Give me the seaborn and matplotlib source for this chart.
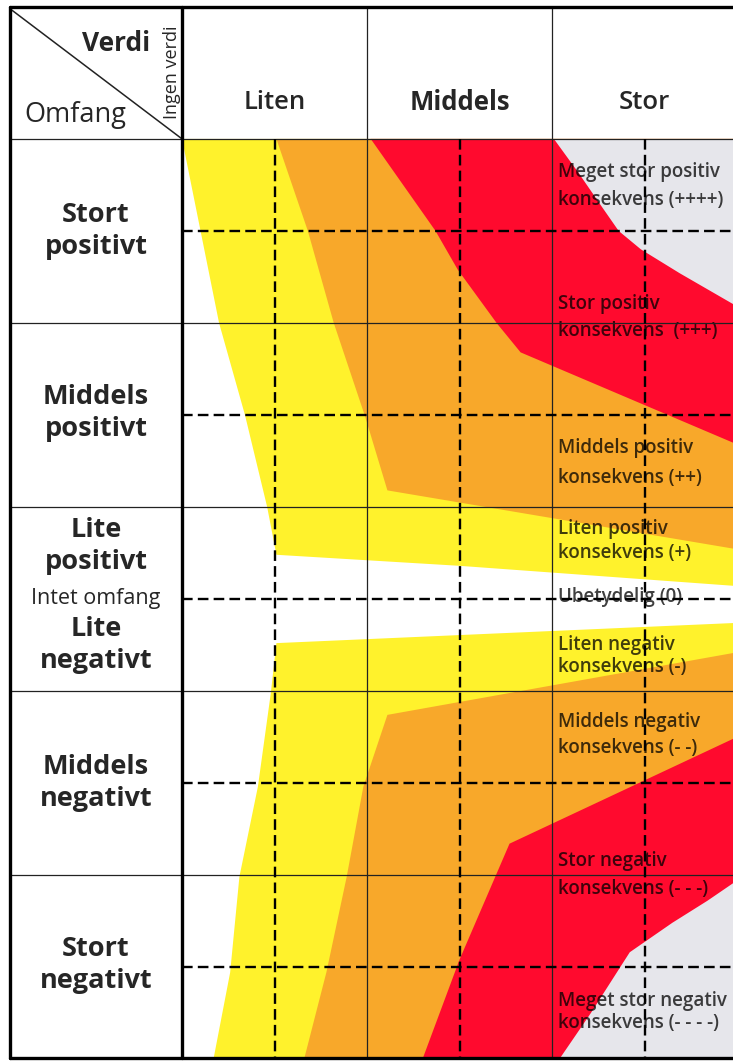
"""
Konsekvensvifte: verdi (kolonner) mot omfang (rader)
"""

import matplotlib
matplotlib.use("Agg")
import matplotlib.pyplot as plt
import seaborn as sns

sns.set_style("white")
plt.rcParams['font.family'] = ['Open Sans', 'DejaVu Sans']

# Units: x = verdi (0 = ingen verdi, 1 liten, 2 middels, 3 stor)
#        y = omfang (+2.5 stort positivt ... 0 intet ... -2.5 stort negativt)
value_cols = ['Liten', 'Middels', 'Stor']
scope_rows = ['Stort\npositivt', 'Middels\npositivt', 'Lite\npositivt',
              'Lite\nnegativt', 'Middels\nnegativt', 'Stort\nnegativt']
scope_row_y = [2.0, 1.01, 0.29, -0.25, -1.0, -1.99]

# fan polygons, positive half
yellow_pos_x = [0.0, 0.2, 0.34, 0.46, 0.51, 1.5, 3.0, 3.0]
yellow_pos_y = [2.5, 1.5, 1.0, 0.5, 0.24, 0.18, 0.07, 2.5]
orange_pos_x = [0.51, 0.68, 0.82, 0.99, 1.11, 3.0, 3.0]
orange_pos_y = [2.5, 2.0, 1.5, 0.99, 0.59, 0.27, 2.5]
red_pos_x = [1.02, 1.37, 1.49, 1.70, 1.83, 3.0, 3.0]
red_pos_y = [2.5, 2.0, 1.79, 1.5, 1.34, 0.84, 2.5]
grey_pos_x = [2.01, 2.14, 2.27, 2.36, 2.48, 2.69, 3.0, 3.0]
grey_pos_y = [2.5, 2.32, 2.13, 2.0, 1.90, 1.77, 1.59, 2.5]

# fan polygons, negative half
yellow_neg_x = [0.51, 3.0, 3.0, 0.17, 0.26, 0.31, 0.41, 0.48]
yellow_neg_y = [-0.24, -0.13, -2.5, -2.5, -2.03, -1.51, -1.02, -0.51]
orange_neg_x = [1.11, 3.0, 3.0, 0.66, 0.78, 0.89, 0.98]
orange_neg_y = [-0.63, -0.29, -2.5, -2.5, -2.03, -1.51, -1.02]
red_neg_x = [1.77, 3.0, 3.0, 1.30, 1.50]
red_neg_y = [-1.33, -0.75, -2.5, -2.5, -1.96]
grey_neg_x = [2.04, 2.21, 2.35, 2.42, 2.65, 2.84, 3.0, 3.0]
grey_neg_y = [-2.5, -2.25, -2.03, -1.92, -1.76, -1.64, -1.53, -2.5]

# consequence labels in the "Stor" column
cons_labels = ['Meget stor positiv\nkonsekvens (++++)',
               'Stor positiv\nkonsekvens  (+++)',
               'Middels positiv\nkonsekvens (++)',
               'Liten positiv\nkonsekvens (+)',
               'Ubetydelig (0)',
               'Liten negativ\nkonsekvens (-)',
               'Middels negativ\nkonsekvens (- -)',
               'Stor negativ\nkonsekvens (- - -)',
               'Meget stor negativ\nkonsekvens (- - - -)']
cons_y = [2.245, 1.53, 0.74, 0.315, 0.01, -0.31, -0.74, -1.5, -2.245]
cons_spacing = [1.5, 1.51, 1.68, 1.31, 1.2, 1.1, 1.37, 1.56, 1.15]

YELLOW = '#FFF22C'
ORANGE = '#F8A82A'
RED = '#FF0A2E'
GREY = '#E6E6EB'
LEFT, TOP, RIGHT, BOTTOM = -0.93, 3.217, 3.0, -2.497

fig = plt.figure(figsize=(7.33, 10.61), dpi=100)
ax = fig.add_axes([0, 0, 1, 1])
ax.set_xlim(-0.984, 2.978)
ax.set_ylim(-2.511, 3.255)
ax.axis('off')

# coloured fan
for xs, ys, col in [(yellow_pos_x, yellow_pos_y, YELLOW), (orange_pos_x, orange_pos_y, ORANGE),
                    (red_pos_x, red_pos_y, RED), (grey_pos_x, grey_pos_y, GREY),
                    (yellow_neg_x, yellow_neg_y, YELLOW), (orange_neg_x, orange_neg_y, ORANGE),
                    (red_neg_x, red_neg_y, RED), (grey_neg_x, grey_neg_y, GREY)]:
    ax.fill(xs, ys, color=col, lw=0, zorder=1)

# grid: thin solid row/column lines
for y in [2.5, 1.5, 0.5, -0.5, -1.5]:
    ax.plot([LEFT, RIGHT], [y, y], color='#222222', lw=0.9, zorder=4)
for x in [1, 2]:
    ax.plot([x, x], [TOP, BOTTOM], color='#222222', lw=0.9, zorder=4)

# dashed half-step lines
for y in [2.0, 1.0, 0.0, -1.0, -2.0]:
    ax.plot([0, RIGHT], [y, y], color='black', lw=1.7, ls=(0, (4.5, 2.2)), zorder=4)
for x in [0.5, 1.5, 2.5]:
    ax.plot([x, x], [2.5, BOTTOM], color='black', lw=1.7, ls=(0, (4.5, 2.2)), zorder=4)

# thick frame
ax.plot([LEFT, LEFT], [TOP, BOTTOM], color='black', lw=2.4, zorder=5)
ax.plot([0, 0], [TOP, BOTTOM], color='black', lw=2.4, zorder=5)
ax.plot([LEFT, RIGHT], [TOP, TOP], color='black', lw=2.4, zorder=5)
ax.plot([LEFT, RIGHT], [BOTTOM, BOTTOM], color='black', lw=2.4, zorder=5)

# header corner
ax.plot([-0.92, 0], [3.20, 2.5], color='#222222', lw=1.1, zorder=4)
ax.text(-0.17, 3.02, 'Verdi', ha='right', va='center', fontsize=19, fontweight='bold')
ax.text(-0.85, 2.63, 'Omfang', ha='left', va='center', fontsize=19.5)
ax.text(-0.052, 2.86, 'Ingen verdi', ha='center', va='center', rotation=90, fontsize=13)

for i, name in enumerate(value_cols):
    ax.text(i + 0.5, 2.70, name, ha='center', va='center', fontsize=18.5,
            fontweight='bold' if name == 'Middels' else 'semibold')

for name, y in zip(scope_rows, scope_row_y):
    ax.text(-0.465, y, name, ha='center', va='center', fontsize=19.5,
            fontweight='bold', linespacing=1.3)
ax.text(-0.465, 0.0, 'Intet omfang', ha='center', va='center', fontsize=15.5)

for label, y, sp in zip(cons_labels, cons_y, cons_spacing):
    ax.text(2.03, y, label, ha='left', va='center', fontsize=13.5,
            fontweight='semibold', color='black', alpha=0.75,
            linespacing=sp, zorder=3)

plt.savefig('out.png', dpi=100)
